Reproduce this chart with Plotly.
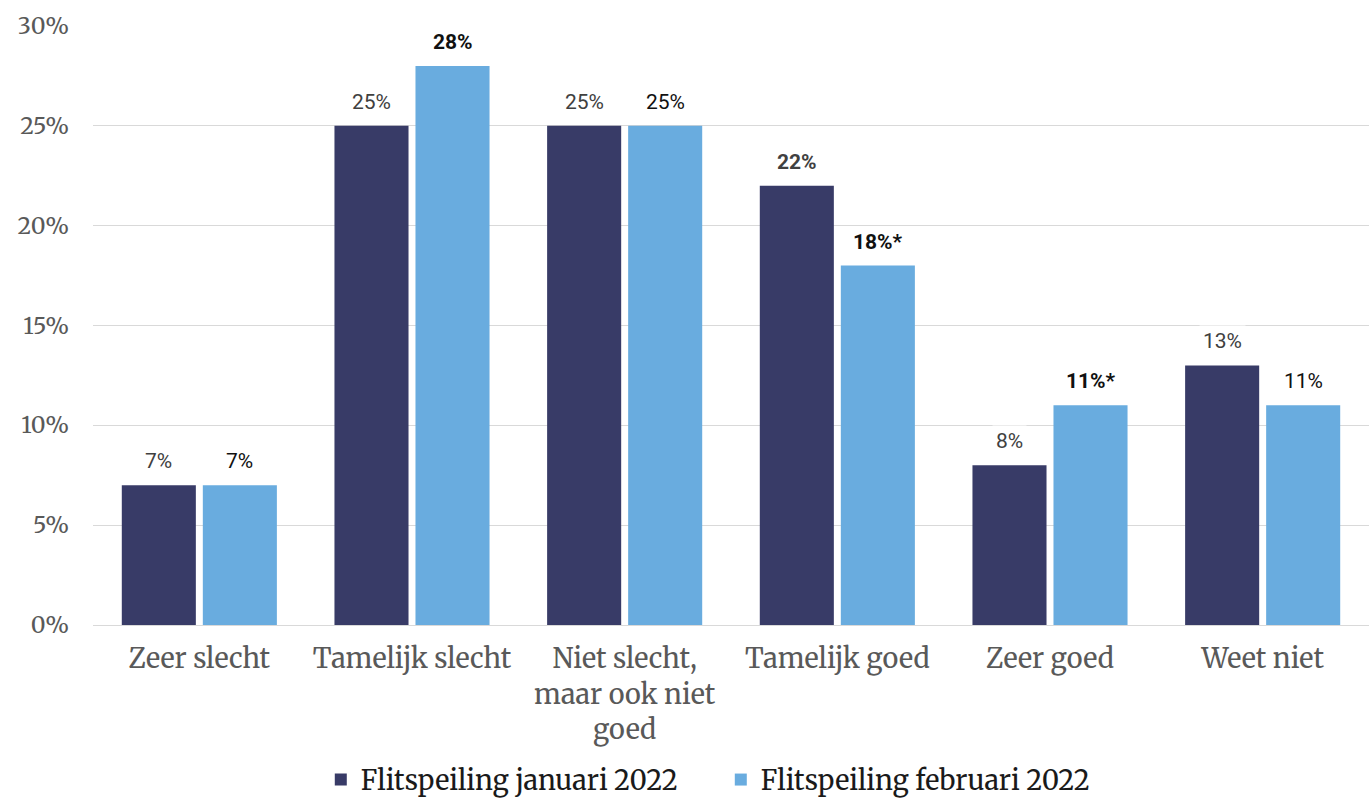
import plotly.graph_objects as go

categories = ["Zeer slecht", "Tamelijk slecht", "Niet slecht,<br>maar ook niet<br>goed",
              "Tamelijk goed", "Zeer goed", "Weet niet"]
jan_values = [7, 25, 25, 22, 8, 13]
feb_values = [7, 28, 25, 18, 11, 11]
jan_labels = ["7%", "25%", "25%", "22%", "8%", "13%"]
feb_labels = ["7%", "28%", "25%", "18%*", "11%*", "11%"]
jan_bold = [False, False, False, True, False, False]
feb_bold = [False, True, False, True, True, False]

JAN_COLOR = "#383B67"
FEB_COLOR = "#69ACDF"
SERIF = "Merriweather, DejaVu Serif, serif"
SANS = "Roboto, Arial, sans-serif"

fig = go.Figure()
fig.add_trace(go.Bar(x=categories, y=jan_values, name="Flitspeiling januari 2022",
                     marker=dict(color=JAN_COLOR, line=dict(width=0))))
fig.add_trace(go.Bar(x=categories, y=feb_values, name="Flitspeiling februari 2022",
                     marker=dict(color=FEB_COLOR, line=dict(width=0))))

# labels boven de staven, witte achtergrond onderbreekt de rasterlijnen
for vals, labels, bold, shift, color in [
    (jan_values, jan_labels, jan_bold, -40.5, "#404040"),
    (feb_values, feb_labels, feb_bold, 40.5, "#111111"),
]:
    for cat, v, lab, b in zip(categories, vals, labels, bold):
        fig.add_annotation(
            x=cat, y=v, text=f"<b>{lab}</b>" if b else lab,
            xshift=shift, yshift=8, yanchor="bottom", showarrow=False,
            bgcolor="white", borderpad=3,
            font=dict(family=SANS, size=21, color=color),
        )

fig.update_layout(
    width=1369, height=800,
    paper_bgcolor="white", plot_bgcolor="white",
    barmode="group", bargap=0.238, bargroupgap=0.086,
    margin=dict(l=93, r=0, t=26, b=175),
    font=dict(family=SERIF, color="#595959"),
    xaxis=dict(tickfont=dict(size=27, color="#595959"), showline=True,
               linecolor="#d9d9d9", linewidth=1, ticks="", automargin=False,
               ticklabelstandoff=10),
    yaxis=dict(range=[0, 30], dtick=5, ticksuffix="%", showgrid=True,
               gridcolor="#d9d9d9", gridwidth=1, zeroline=False, automargin=False,
               tickfont=dict(size=23, color="#595959"), ticklabelstandoff=23),
    legend=dict(orientation="h", x=0.492, xanchor="center",
                yref="container", y=0.025, yanchor="middle",
                font=dict(family=SERIF, size=27, color="#1a1a1a"),
                itemwidth=30, entrywidth=355, traceorder="normal"),
    showlegend=True,
)

fig.write_html("out.html", config={"displayModeBar": False},
               post_script="document.body.style.margin='0';")
